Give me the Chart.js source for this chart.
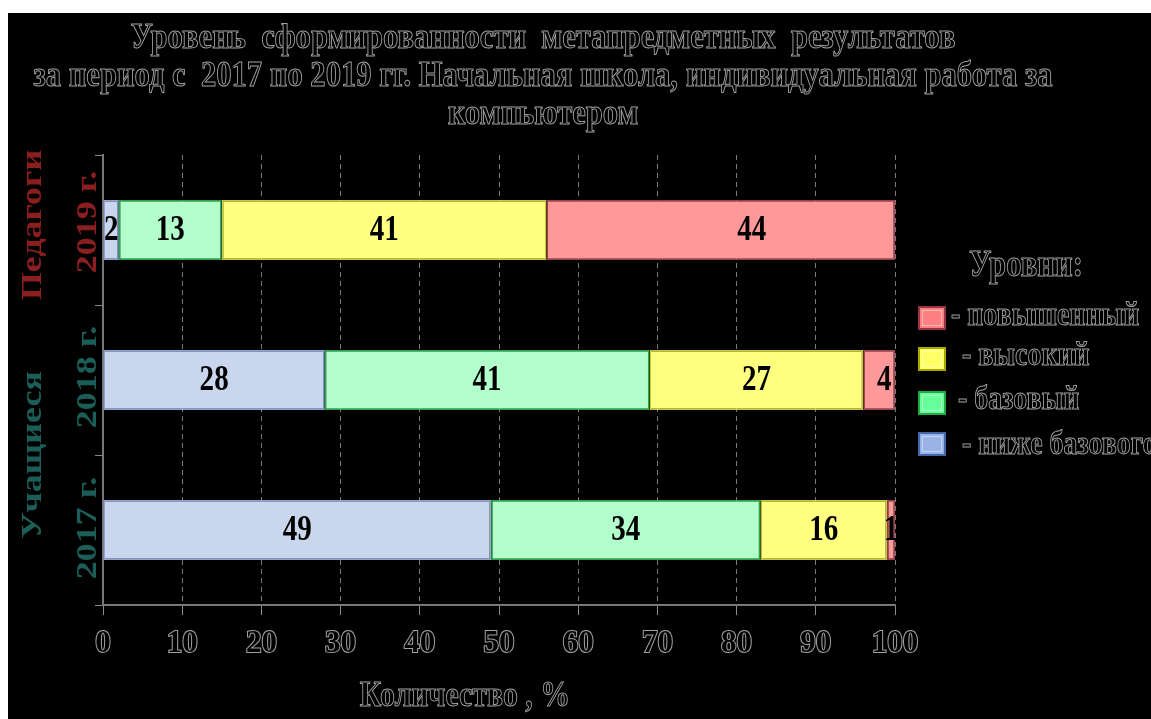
<!DOCTYPE html>
<html>
<head>
<meta charset="utf-8">
<script src="https://cdn.jsdelivr.net/npm/chart.js@4/dist/chart.umd.min.js"></script>
<style>
  html, body { margin: 0; padding: 0; background: #ffffff; width: 1151px; height: 719px; overflow: hidden; }
  #wrap { position: absolute; left: 8px; top: 13px; width: 1143px; height: 706px; background: #000; }
  canvas { display: block; }
</style>
</head>
<body>
<div id="wrap"><canvas id="c" width="1143" height="706"></canvas></div>
<script>
// ---- data ----
const categories = ['2019 г.', '2018 г.', '2017 г.'];
const groupLabels = ['Педагоги', 'Учащиеся'];
const seriesNames = ['ниже базового', 'базовый', 'высокий', 'повышенный'];
const belowBasic = [2, 28, 49];
const basic = [13, 41, 34];
const high = [41, 27, 16];
const advanced = [44, 4, 1];
const titleLines = [
  'Уровень  сформированности  метапредметных  результатов',
  'за период с  2017 по 2019 гг. Начальная школа, индивидуальная работа за',
  'компьютером'
];
const axisTitle = 'Количество , %';
const legendTitle = 'Уровни:';

// ---- styles ----
const fills = ['#C9D6EE', '#B3FFCC', '#FFFF80', '#FF9999'];
const borders = ['#8FA3D6', '#22AA44', '#C8C83A', '#A04050'];
const legendFills = ['#99B3E6', '#66FF99', '#FFFF66', '#FF8080'];
const legendBorders = ['#4466AA', '#22AA44', '#A8A800', '#993344'];
const FONT = '"Liberation Serif", "Times New Roman", serif';
const SX = 0.83; // horizontal squash of the reference's lettering
const STROKE = '#a0a0a0';

function outlined(ctx, text, x, y, size, opts) {
  opts = opts || {};
  const sx = opts.sx || SX;
  ctx.save();
  ctx.translate(x, y);
  if (opts.rotate) { ctx.rotate(-Math.PI / 2); ctx.scale(1, sx); }
  else { ctx.scale(sx, 1); }
  ctx.font = 'bold ' + size + 'px ' + FONT;
  ctx.textAlign = opts.align || 'center';
  ctx.textBaseline = 'middle';
  ctx.fillStyle = opts.color || '#000';
  ctx.fillText(text, 0, 0);
  if (opts.stroke !== false) {
    ctx.lineWidth = 1;
    ctx.strokeStyle = opts.strokeColor || STROKE;
    ctx.strokeText(text, 0, 0);
  }
  ctx.restore();
}

// manual label nudges (dataset index -> category index -> px)
const labelNudge = { 3: { 0: 31, 1: 5 } };

const decor = {
  id: 'decor',
  beforeDraw(chart) {
    const ctx = chart.ctx;
    ctx.save();
    ctx.fillStyle = '#000';
    ctx.fillRect(0, 0, chart.width, chart.height);
    ctx.restore();
  },
  afterDatasetsDraw(chart) {
    const ctx = chart.ctx;
    chart.data.datasets.forEach((ds, di) => {
      const meta = chart.getDatasetMeta(di);
      meta.data.forEach((bar, i) => {
        const p = bar.getCenterPoint();
        const dx = (labelNudge[di] && labelNudge[di][i]) || 0;
        outlined(ctx, String(ds.data[i]), p.x + dx, p.y + 1, 35, { color: '#000', stroke: false });
      });
    });
  },
  afterDraw(chart) {
    const ctx = chart.ctx;
    const area = chart.chartArea;
    const cx = 535;
    // title
    titleLines.forEach((t, i) => outlined(ctx, t, cx, 26 + i * 38, 35, { sx: 0.874 }));
    // x axis title
    outlined(ctx, axisTitle, (area.left + area.right) / 2 - 34, 684, 36);
    // category labels (rotated) and groups
    const ys = chart.scales.y;
    const red = '#8B1E1E', teal = '#1B5E58';
    const catNudge = [-8, -3, -2];
    categories.forEach((c, i) => {
      outlined(ctx, c, 80, ys.getPixelForValue(i) + catNudge[i], 36, { rotate: true, color: i === 0 ? red : teal, stroke: false });
    });
    outlined(ctx, groupLabels[0], 25, ys.getPixelForValue(0) - 5, 36, { rotate: true, color: red, stroke: false });
    outlined(ctx, groupLabels[1], 25, (ys.getPixelForValue(1) + ys.getPixelForValue(2)) / 2, 36, { rotate: true, color: teal, stroke: false });
    // legend
    outlined(ctx, legendTitle, 1018, 253, 37);
    const items = [
      { i: 3, boxY: 293, textX: 943, textY: 303 },
      { i: 2, boxY: 334, textX: 954, textY: 343 },
      { i: 1, boxY: 378, textX: 950, textY: 387 },
      { i: 0, boxY: 419, textX: 954, textY: 432 }
    ];
    items.forEach(it => {
      ctx.save();
      ctx.fillStyle = legendFills[it.i];
      ctx.fillRect(910, it.boxY, 28, 24);
      ctx.lineWidth = 2;
      ctx.strokeStyle = legendBorders[it.i];
      ctx.strokeRect(911, it.boxY + 1, 26, 22);
      ctx.strokeStyle = 'rgba(255,255,255,0.45)';
      ctx.lineWidth = 1;
      ctx.strokeRect(914.5, it.boxY + 4.5, 19, 15);
      ctx.restore();
      outlined(ctx, '- ' + seriesNames[it.i], it.textX, it.textY, 33, { align: 'left', sx: 0.845 });
    });
  }
};

const seriesValues = [belowBasic, basic, high, advanced];
const datasets = seriesNames.map((name, k) => ({
  label: name,
  data: seriesValues[k],
  backgroundColor: fills[k],
  borderColor: borders[k],
  borderWidth: 1.5,
  borderSkipped: false,
  barPercentage: 0.4,
  categoryPercentage: 1.0
}));

new Chart(document.getElementById('c'), {
  type: 'bar',
  data: { labels: categories, datasets },
  options: {
    indexAxis: 'y',
    responsive: false,
    animation: false,
    layout: { padding: { left: 87, top: 142, right: 256, bottom: 0 } },
    plugins: { legend: { display: false }, title: { display: false }, tooltip: { enabled: false } },
    scales: {
      x: {
        stacked: true, min: 0, max: 100,
        ticks: {
          stepSize: 10, color: '#000', padding: 10,
          textStrokeColor: STROKE, textStrokeWidth: 2,
          font: { family: FONT, size: 31, weight: 'bold' }
        },
        grid: { color: '#7a7a7a', lineWidth: 1, tickLength: 10, tickColor: '#8a8a8a', tickBorderDash: [], tickWidth: 1 },
        border: { display: true, color: '#777', width: 2, dash: [5, 4] },
        afterFit(s) { s.height = 114; }
      },
      y: {
        stacked: true,
        ticks: { display: false },
        grid: { drawOnChartArea: false, offset: true, tickLength: 8, color: '#8a8a8a' },
        border: { display: true, color: '#777', width: 2 },
        afterFit(s) { s.width = 8; }
      }
    }
  },
  plugins: [decor]
});
</script>
</body>
</html>
